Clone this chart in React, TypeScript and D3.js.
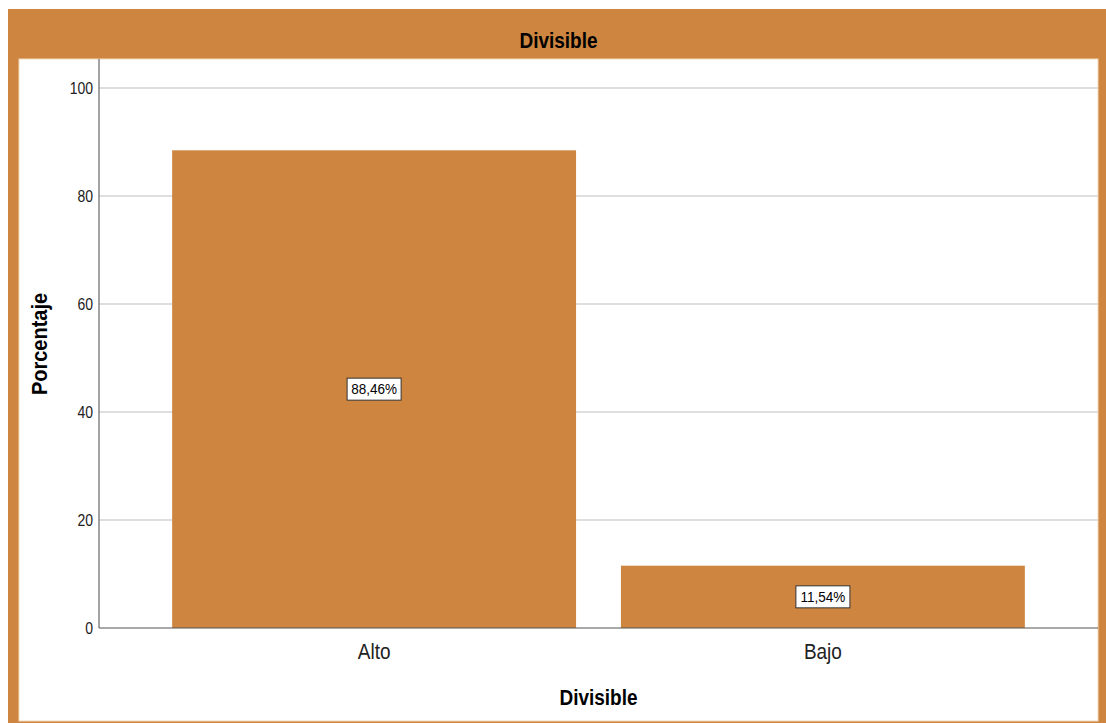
import React from "react";
import * as d3 from "d3";

const categories = ["Alto", "Bajo"];
const values = [88.46, 11.54];
const valueLabels = ["88,46%", "11,54%"];
const yTicks = [0, 20, 40, 60, 80, 100];

const W = 1106;
const H = 723;
const ORANGE = "#CD853F";

export default function App() {
  const x = d3
    .scaleBand<string>()
    .domain(categories)
    .range([99, 1098])
    .paddingInner(0.1)
    .paddingOuter(0.163);
  const y = d3.scaleLinear().domain([0, 100]).range([628, 88]);
  const font = "'Liberation Sans', Arial, sans-serif";

  return (
    <svg
      width={W}
      height={H}
      style={{ position: "absolute", left: 0, top: 0, display: "block" }}
      fontFamily={font}
    >
      <rect x={0} y={0} width={W} height={H} fill="#fff" />
      <rect x={8} y={9} width={W - 8} height={H - 9} fill={ORANGE} />
      <rect x={19} y={59} width={1079} height={662} fill="#fff" stroke="#f3d9bd" strokeWidth={1} />
      <text transform="translate(558.5, 48) scale(1, 1.12)" textAnchor="middle" fontSize={19} fontWeight="bold" fill="#000">
        Divisible
      </text>
      {yTicks.map((t) =>
        t === 0 ? null : (
          <line key={"g" + t} x1={99} x2={1098} y1={y(t)} y2={y(t)} stroke="#d4d4d4" strokeWidth={1.5} />
        )
      )}
      {categories.map((c, i) => (
        <rect
          key={c}
          x={x(c)}
          y={y(values[i])}
          width={x.bandwidth()}
          height={y(0) - y(values[i])}
          fill={ORANGE}
        />
      ))}
      <line x1={99} x2={99} y1={59} y2={628} stroke="#666" strokeWidth={1.2} />
      <line x1={99} x2={1098} y1={628} y2={628} stroke="#555" strokeWidth={1.2} />
      {yTicks.map((t) => (
        <text
          key={"t" + t}
          transform={`translate(93, ${y(t) + 6}) scale(1, 1.12)`}
          textAnchor="end"
          fontSize={14}
          fill="#222"
        >
          {t}
        </text>
      ))}
      {categories.map((c, i) => {
        const cx = (x(c) as number) + x.bandwidth() / 2;
        const cy = (y(values[i]) + y(0)) / 2;
        return (
          <g key={"l" + c}>
            <rect x={cx - 27} y={cy - 11} width={54} height={22} fill="#fff" stroke="#333" strokeWidth={1} />
            <text
              transform={`translate(${cx}, ${cy + 5}) scale(1, 1.1)`}
              textAnchor="middle"
              fontSize={13.5}
              fill="#000"
            >
              {valueLabels[i]}
            </text>
            <text
              transform={`translate(${cx}, 659) scale(1, 1.12)`}
              textAnchor="middle"
              fontSize={19}
              fill="#222"
            >
              {c}
            </text>
          </g>
        );
      })}
      <text transform="translate(598.5, 705) scale(1, 1.12)" textAnchor="middle" fontSize={19} fontWeight="bold" fill="#000">
        Divisible
      </text>
      <text
        transform={`translate(47, 344) rotate(-90) scale(1, 1.12)`}
        textAnchor="middle"
        fontSize={20}
        fontWeight="bold"
        fill="#000"
      >
        Porcentaje
      </text>
    </svg>
  );
}
